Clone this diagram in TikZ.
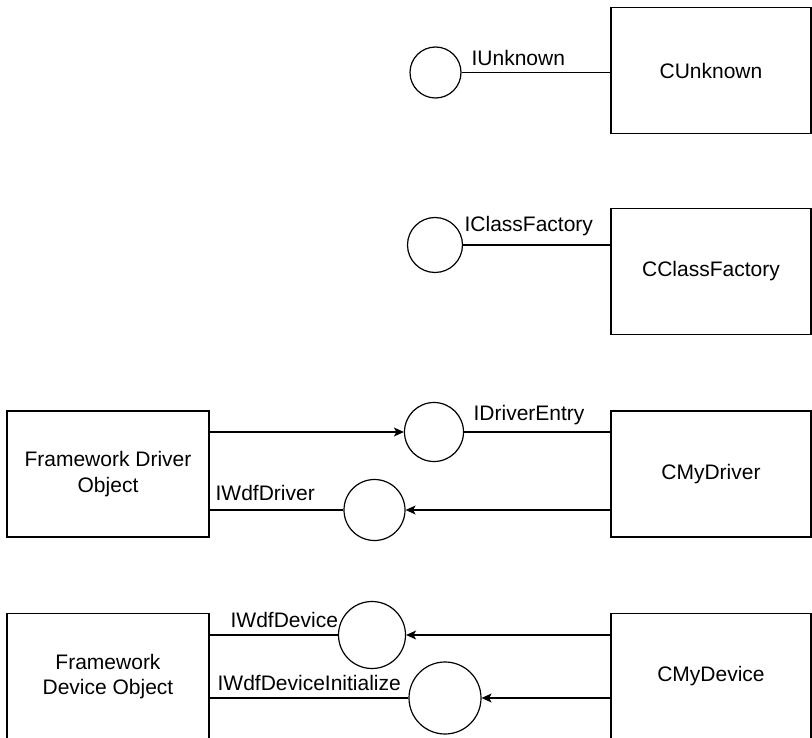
\documentclass[tikz,border=0pt]{standalone}
\usepackage{fontspec}
\setmainfont{Liberation Sans}
\usetikzlibrary{arrows.meta}
\begin{document}
\begin{tikzpicture}[x=1pt,y=1pt,
  line width=1.2pt,
  every node/.style={font=\fontsize{21}{25.5}\selectfont},
  classbox/.style={draw, rectangle, minimum width=200pt, minimum height=126pt, align=center, inner sep=0pt},
  iface/.style={draw, circle, inner sep=0pt},
  lbl/.style={anchor=base west, inner sep=0pt},
  conn/.style={draw},
  call/.style={draw, -{Stealth[length=10pt, width=9pt, inset=2.5pt]}}
]
\useasboundingbox (0,0) rectangle (812,-738);

% classes
\node[classbox] (cunk)  at (711,-70.5)  {CUnknown};
\node[classbox] (ccf)   at (711,-271.5) {CClassFactory};
\node[classbox] (cmd)   at (711,-474)   {CMyDriver};
\node[classbox] (cmdev) at (711,-676.5) {CMyDevice};

% framework objects
\node[classbox, minimum width=202pt] (fdo)  at (108,-474)   {Framework Driver\\Object};
\node[classbox, minimum width=202pt] (fdev) at (108,-676.5) {Framework\\Device Object};

% interfaces (lollipops)
\node[iface, minimum size=51pt] (iu)    at (435.5,-72.5) {};
\node[iface, minimum size=55pt] (icf)   at (435,-245)    {};
\node[iface, minimum size=59pt] (ide)   at (434,-432)    {};
\node[iface, minimum size=61pt] (iwd)   at (374.5,-510)  {};
\node[iface, minimum size=67pt] (iwdev) at (372,-635)    {};
\node[iface, minimum size=72pt] (iwdi)  at (445,-698)    {};

% interface names
\node[lbl] (liu)    at (471,-66)  {IUnknown};
\node[lbl] (licf)   at (464,-232) {IClassFactory};
\node[lbl] (lide)   at (473,-420) {IDriverEntry};
\node[lbl] (liwd)   at (215,-500) {IWdfDriver};
\node[lbl] (liwdev) at (230,-627) {IWdfDevice};
\node[lbl] (liwdi)  at (217,-690) {IWdfDeviceInitialize};

% connectors
\path[conn] (iu.east) -- (cunk.west |- iu.east);
\path[conn] (icf.east) -- (ccf.west |- icf.east);

\path[call] (fdo.east |- ide.west) -- (ide.west);
\path[conn] (ide.east) -- (cmd.west |- ide.east);

\path[call] (cmd.west |- iwd.east) -- (iwd.east);
\path[conn] (iwd.west) -- (fdo.east |- iwd.west);

\path[call] (cmdev.west |- iwdev.east) -- (iwdev.east);
\path[conn] (iwdev.west) -- (fdev.east |- iwdev.west);

\path[call] (cmdev.west |- iwdi.east) -- (iwdi.east);
\path[conn] (iwdi.west) -- (fdev.east |- iwdi.west);
\end{tikzpicture}
\end{document}
